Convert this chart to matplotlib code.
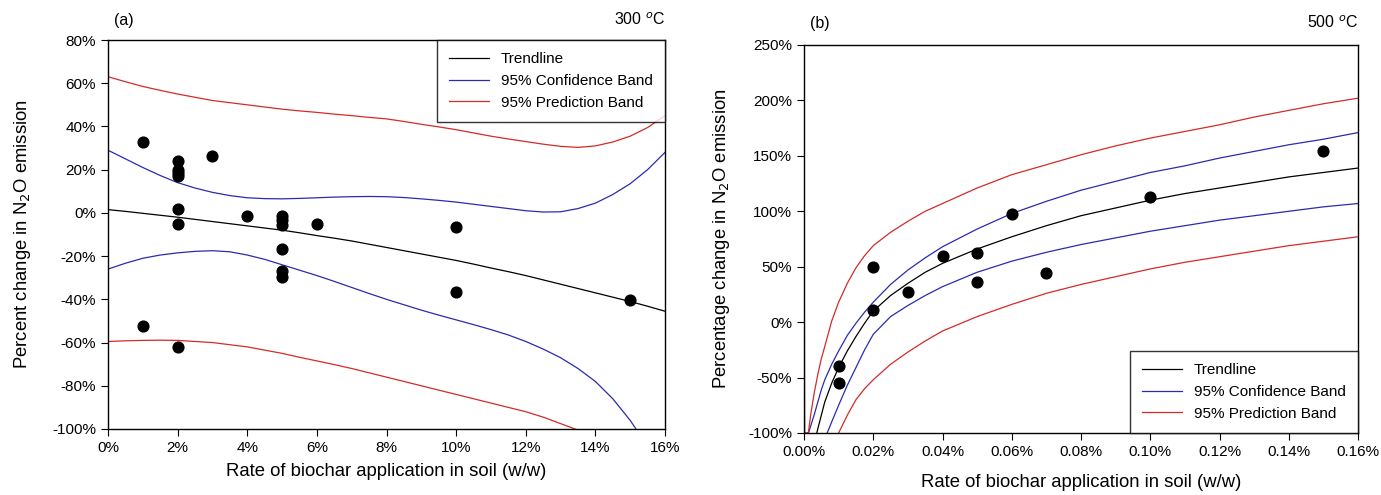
import matplotlib.pyplot as plt

plt.rcParams['font.family'] = ['Liberation Sans', 'DejaVu Sans']

# ---- panel (a): 300 C ----
a_x = [1, 1, 2, 2, 2, 2, 2, 2, 2, 3, 4, 5, 5, 5, 5, 5, 5, 6, 10, 10, 15]
a_y = [33, -52.5, 24, 20, 18.5, 17, 2, -5, -62, 26.5, -1.5, -1.5, -3.5, -5.5,
       -16.5, -27, -29.5, -5, -6.5, -36.5, -40.5]

a_line_x = [0, 0.5, 1, 1.5, 2, 2.5, 3, 3.5, 4, 4.5, 5, 5.5, 6, 6.5, 7, 7.5, 8,
            8.5, 9, 9.5, 10, 10.5, 11, 11.5, 12, 12.5, 13, 13.5, 14, 14.5, 15, 15.5, 16]
a_trend = [1.5, 0.7, -0.2, -1.1, -2, -3, -4, -5, -6, -7, -8, -9.2, -10.5, -11.7, -13, -14.5, -16,
           -17.5, -19, -20.5, -22, -23.7, -25.5, -27.2, -29, -31, -33, -35, -37, -39, -41, -43.2, -45.5]
a_conf_hi = [29, 25, 21, 17.3, 14, 11.5, 9.5, 8, 7, 6.6, 6.5, 6.7, 7, 7.3, 7.5, 7.6, 7.5,
             7.1, 6.5, 5.8, 5, 4, 3, 2, 1, 0.4, 0.5, 2, 4.5, 8.5, 13.5, 20, 28]
a_conf_lo = [-26, -23.3, -21, -19.5, -18.5, -17.8, -17.5, -18, -19.5, -21.5, -24, -26.5, -29, -31.7,
             -34.5, -37.3, -40, -42.5, -45, -47.3, -49.5, -51.7, -54, -56.5, -59.5, -63, -67, -72,
             -78, -86, -96, -108, -122]
a_pred_hi = [63, 60.7, 58.5, 56.7, 55, 53.5, 52, 51, 50, 49, 48, 47.2, 46.5, 45.7, 45, 44.2, 43.5,
             42.3, 41, 39.8, 38.5, 37, 35.5, 34.2, 33, 31.8, 30.8, 30.3, 31, 32.8, 35.5, 39.5, 45]
a_pred_lo = [-59.5, -59.2, -59, -58.9, -59, -59.5, -60, -61, -62, -63.5, -65, -66.8, -68.5, -70.2,
             -72, -74, -76, -78, -80, -82, -84, -86, -88, -90, -92, -94.5, -97.5, -100.5, -104,
             -108, -112, -117, -122]

# ---- panel (b): 500 C ----
b_x = [0.01, 0.01, 0.02, 0.02, 0.03, 0.04, 0.05, 0.05, 0.06, 0.07, 0.10, 0.15]
b_y = [-40, -55, 50, 11, 27, 60, 62, 36, 98, 44, 113, 154]

b_tail_x = [0.0125, 0.015, 0.0175, 0.02, 0.025, 0.03, 0.035, 0.04, 0.05, 0.06, 0.07,
            0.08, 0.09, 0.10, 0.11, 0.12, 0.13, 0.14, 0.15, 0.16]

b_trend_x = [0.0037, 0.004, 0.005, 0.006, 0.008, 0.01] + b_tail_x
b_trend = [-100, -96, -84, -72, -55, -41, -26, -13, -1, 10, 24, 35, 45, 53, 66, 77, 87,
           96, 103, 110, 116, 121, 126, 131, 135, 139]

b_chi_x = [0.00005, 0.0001, 0.00015, 0.0013, 0.002, 0.003, 0.004, 0.005, 0.006, 0.008,
           0.01] + b_tail_x
b_conf_hi = [-100, 8, -100, -100, -93, -83, -72, -61, -52, -38, -26, -12, -1, 9, 18, 34, 47,
             58, 68, 84, 98, 109, 119, 127, 135, 141, 148, 154, 160, 165, 171]

b_clo_x = [0.0067, 0.008, 0.01] + b_tail_x
b_conf_lo = [-100, -90, -75, -57, -41, -25, -11, 5, 15, 24, 32, 45, 55, 63, 70, 76, 82, 87,
             92, 96, 100, 104, 107]

b_phi_x = [0.00005, 0.0001, 0.00015, 0.00125, 0.002, 0.003, 0.004, 0.005, 0.006, 0.008,
           0.01] + b_tail_x
b_pred_hi = [-100, 50, -100, -100, -82, -63, -47, -33, -22, 1, 18, 35, 49, 60, 69, 81, 91, 100,
             107, 121, 133, 142, 151, 159, 166, 172, 178, 185, 191, 197, 202]

b_plo_x = [0.01] + b_tail_x
b_pred_lo = [-100, -84, -70, -60, -52, -38, -27, -17, -8, 5, 16, 26, 34, 41, 48, 54, 59, 64,
             69, 73, 77]

RED = '#d42a2a'
BLUE = '#2b2bb0'

fig = plt.figure(figsize=(13.81, 4.95), dpi=100)
ax1 = fig.add_axes([108 / 1381, 66 / 495, 557 / 1381, 389 / 495])
ax2 = fig.add_axes([804 / 1381, 62 / 495, 554 / 1381, 388 / 495])

ax1.plot(a_line_x, a_trend, color='black', lw=0.9, label='Trendline')
ax1.plot(a_line_x, a_conf_hi, color=BLUE, lw=0.9, label='95% Confidence Band')
ax1.plot(a_line_x, a_conf_lo, color=BLUE, lw=0.9)
ax1.plot(a_line_x, a_pred_hi, color=RED, lw=0.9, label='95% Prediction Band')
ax1.plot(a_line_x, a_pred_lo, color=RED, lw=0.9)
ax1.scatter(a_x, a_y, s=60, color='black', zorder=3)
ax1.set_xlim(0, 16)
ax1.set_ylim(-100, 80)
ax1.set_xticks(range(0, 17, 2))
ax1.set_xticklabels([f'{v}%' for v in range(0, 17, 2)])
ax1.set_yticks(range(-100, 81, 20))
ax1.set_yticklabels([f'{v}%' for v in range(-100, 81, 20)])
ax1.set_ylabel('Percent change in N$_2$O emission', fontsize=13.3, labelpad=14)
ax1.set_xlabel('Rate of biochar application in soil (w/w)', fontsize=13.3, labelpad=6)
ax1.text(0.01, 1.03, '(a)', transform=ax1.transAxes, fontsize=11.5, ha='left', va='bottom')
ax1.text(1.0, 1.03, '300 $^{o}$C', transform=ax1.transAxes, fontsize=11.5, ha='right', va='bottom')
leg1 = ax1.legend(loc='upper right', borderaxespad=0, fancybox=False, edgecolor='black',
                  fontsize=11, handlelength=2.6, borderpad=0.8, labelspacing=0.5)
leg1.get_frame().set_linewidth(1.0)

ax2.plot(b_trend_x, b_trend, color='black', lw=0.9, label='Trendline')
ax2.plot(b_chi_x, b_conf_hi, color=BLUE, lw=0.9, label='95% Confidence Band')
ax2.plot(b_clo_x, b_conf_lo, color=BLUE, lw=0.9)
ax2.plot(b_phi_x, b_pred_hi, color=RED, lw=0.9, label='95% Prediction Band')
ax2.plot(b_plo_x, b_pred_lo, color=RED, lw=0.9)
ax2.scatter(b_x, b_y, s=60, color='black', zorder=3)
ax2.set_xlim(0, 0.16)
ax2.set_ylim(-100, 250)
xt = [i * 0.02 for i in range(9)]
ax2.set_xticks(xt)
ax2.set_xticklabels([f'{v:.2f}%' for v in xt])
ax2.set_yticks(range(-100, 251, 50))
ax2.set_yticklabels([f'{v}%' for v in range(-100, 251, 50)])
ax2.set_ylabel('Percentage change in N$_2$O emission', fontsize=13.3, labelpad=12)
ax2.set_xlabel('Rate of biochar application in soil (w/w)', fontsize=13.3, labelpad=11)
ax2.text(0.01, 1.035, '(b)', transform=ax2.transAxes, fontsize=11.5, ha='left', va='bottom')
ax2.text(1.0, 1.035, '500 $^{o}$C', transform=ax2.transAxes, fontsize=11.5, ha='right', va='bottom')
leg2 = ax2.legend(loc='lower right', borderaxespad=0, fancybox=False, edgecolor='black',
                  fontsize=11, handlelength=2.6, borderpad=0.8, labelspacing=0.5)
leg2.get_frame().set_linewidth(1.0)

for ax in (ax1, ax2):
    ax.tick_params(direction='out', length=5, labelsize=11, top=False, right=False)
    for s in ax.spines.values():
        s.set_linewidth(1.0)

fig.savefig('out.png', dpi=100)
